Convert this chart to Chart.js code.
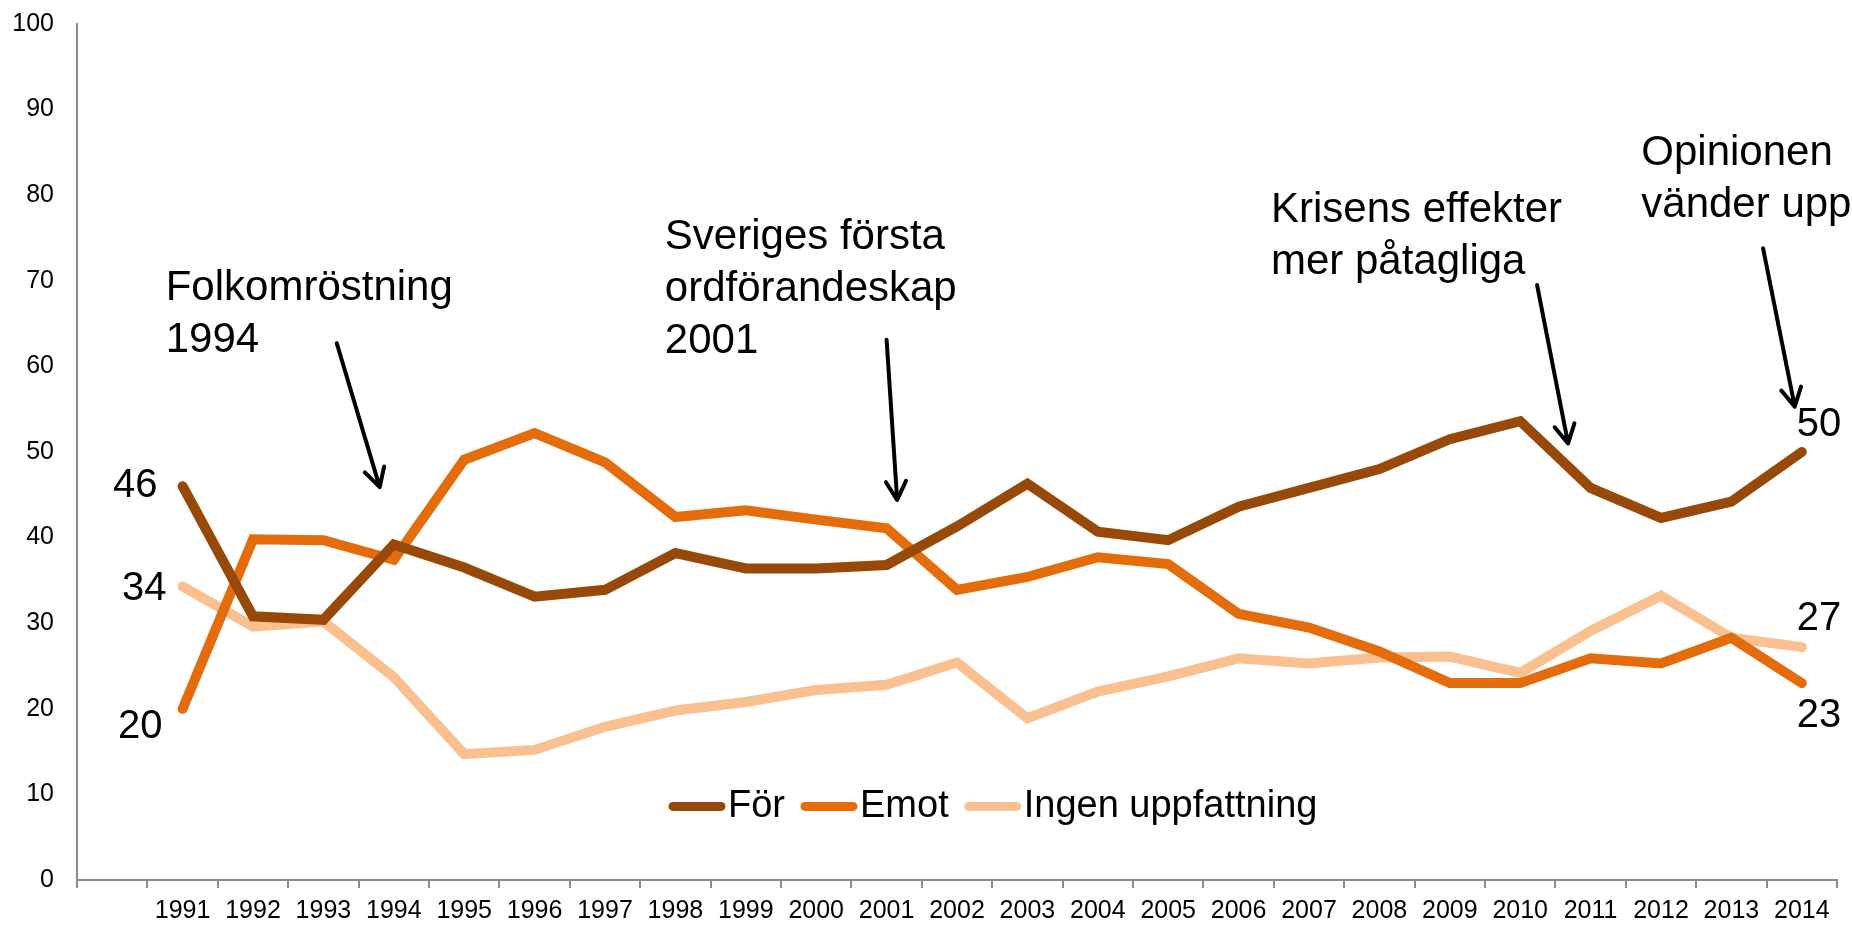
<!DOCTYPE html>
<html>
<head>
<meta charset="utf-8">
<script src="https://cdn.jsdelivr.net/npm/chart.js@4.4.1/dist/chart.umd.min.js"></script>
<style>
  html, body { margin: 0; padding: 0; background: #fff; }
  canvas { display: block; }
</style>
</head>
<body>
<canvas id="myChart" width="1852" height="925"></canvas>
<script>
// years on the x axis (the first slot of the axis is left empty, as in the original)
const years = ["1991", "1992", "1993", "1994", "1995", "1996", "1997", "1998", "1999", "2000",
    "2001", "2002", "2003", "2004", "2005", "2006", "2007", "2008", "2009", "2010",
    "2011", "2012", "2013", "2014"];
const seriesNames = ["För", "Emot", "Ingen uppfattning"];
const forValues = [46, 30.8, 30.4, 39.2, 36.5, 33.1, 33.9, 38.2, 36.4, 36.4, 36.8, 41.3,
    46.3, 40.7, 39.7, 43.6, 45.8, 48.0, 51.5, 53.6, 45.8, 42.3, 44.2, 50];
const emotValues = [20, 39.8, 39.7, 37.4, 49.1, 52.2, 48.8, 42.4, 43.2, 42.1, 41.1, 33.9,
    35.4, 37.7, 36.9, 31.1, 29.5, 26.7, 23.0, 23.0, 25.9, 25.3, 28.3, 23];
const ingenValues = [34.3, 29.6, 30.2, 23.7, 14.7, 15.2, 17.9, 19.8, 20.8, 22.2, 22.8, 25.4,
    18.9, 22.0, 23.8, 25.9, 25.3, 26.0, 26.1, 24.2, 29.1, 33.2, 28.3, 27.2];
const colors = ["#984807", "#e46c0a", "#fac090"];

// texts and arrows, positioned in axis units (category index, percent)
const notes = [
    { lines: ["Folkomröstning", "1994"], at: [0.76, 67.8], from: [3.19, 62.7], to: [3.80, 45.9] },
    { lines: ["Sveriges första", "ordförandeskap", "2001"], at: [7.85, 73.7], from: [11.0, 63.1], to: [11.15, 44.4] },
    { lines: ["Krisens effekter", "mer påtagliga"], at: [16.46, 76.9], from: [20.24, 69.5], to: [20.68, 51.0] },
    { lines: ["Opinionen", "vänder uppåt"], at: [21.72, 83.5], from: [23.45, 73.8], to: [23.9, 55.3] },
];

const FONT = "'Liberation Sans', Arial, sans-serif";
const categories = [""].concat(years);
const allSeries = [forValues, emotValues, ingenValues];

const drawArrow = (ctx, x1, y1, x2, y2) => {
    const a = Math.atan2(y2 - y1, x2 - x1);
    const len = 21, spread = 0.5;
    ctx.beginPath();
    ctx.moveTo(x1, y1);
    ctx.lineTo(x2, y2);
    ctx.moveTo(x2 - len * Math.cos(a - spread), y2 - len * Math.sin(a - spread));
    ctx.lineTo(x2, y2);
    ctx.lineTo(x2 - len * Math.cos(a + spread), y2 - len * Math.sin(a + spread));
    ctx.stroke();
};

const extras = {
    id: "extras",
    afterDraw(chart) {
        const ctx = chart.ctx;
        const xs = chart.scales.x, ys = chart.scales.y;
        const ca = chart.chartArea;
        ctx.save();

        // end labels on the lines
        ctx.fillStyle = "#000";
        ctx.font = "40px " + FONT;
        ctx.textBaseline = "middle";
        const last = years.length;
        const endLabels = [
            { ds: 0, i: 1, dx: -25, dy: 0, align: "right" },
            { ds: 2, i: 1, dx: -16, dy: 3, align: "right" },
            { ds: 1, i: 1, dx: -20, dy: 18, align: "right" },
            { ds: 0, i: last, dx: -5, dy: -27, align: "left" },
            { ds: 2, i: last, dx: -5, dy: -28, align: "left" },
            { ds: 1, i: last, dx: -5, dy: 33, align: "left" },
        ];
        endLabels.forEach((l) => {
            const pt = chart.getDatasetMeta(l.ds).data[l.i];
            ctx.textAlign = l.align;
            ctx.fillText(String(Math.round(chart.data.datasets[l.ds].data[l.i])), pt.x + l.dx, pt.y + l.dy);
        });

        // annotations
        ctx.textAlign = "left";
        ctx.textBaseline = "alphabetic";
        ctx.font = "42px " + FONT;
        notes.forEach((n) => {
            const x = xs.getPixelForValue(n.at[0]);
            const y = ys.getPixelForValue(n.at[1]);
            n.lines.forEach((t, k) => ctx.fillText(t, x, y + k * 52));
            ctx.strokeStyle = "#000";
            ctx.lineWidth = 4;
            ctx.lineCap = "round";
            ctx.lineJoin = "round";
            drawArrow(ctx,
                xs.getPixelForValue(n.from[0]), ys.getPixelForValue(n.from[1]),
                xs.getPixelForValue(n.to[0]), ys.getPixelForValue(n.to[1]));
        });

        // legend inside the plot
        ctx.font = "38px " + FONT;
        ctx.textBaseline = "middle";
        let lx = ca.left + 592;
        const ly = ys.getPixelForValue(8.6);
        chart.data.datasets.forEach((d) => {
            ctx.strokeStyle = d.borderColor;
            ctx.lineWidth = 9;
            ctx.lineCap = "round";
            ctx.beginPath();
            ctx.moveTo(lx + 4, ly);
            ctx.lineTo(lx + 52, ly);
            ctx.stroke();
            lx += 59;
            ctx.fillStyle = "#000";
            ctx.fillText(d.label, lx, ly);
            lx += ctx.measureText(d.label).width + 16;
        });
        ctx.restore();
    },
};

const ctx = document.getElementById("myChart");
const myChart = new Chart(ctx, {
    type: "line",
    data: {
        labels: categories,
        datasets: allSeries.map((vals, i) => ({
            label: seriesNames[i],
            data: [null].concat(vals),
            borderColor: colors[i],
            backgroundColor: colors[i],
            borderWidth: 10,
            borderCapStyle: "round",
            pointRadius: 0,
            tension: 0,
        })),
    },
    options: {
        responsive: false,
        animation: false,
        devicePixelRatio: 1,
        layout: { padding: { top: 24, right: 15, bottom: 0, left: 0 } },
        plugins: {
            legend: { display: false },
            tooltip: { enabled: false },
        },
        scales: {
            x: {
                offset: true,
                grid: {
                    offset: true,
                    drawOnChartArea: false,
                    drawTicks: true,
                    tickLength: 8,
                    color: "#8a8a8a",
                    lineWidth: 2,
                },
                border: { color: "#8a8a8a", width: 2 },
                ticks: {
                    color: "#000",
                    font: { family: FONT, size: 25 },
                    padding: 8,
                    maxRotation: 0,
                    autoSkip: false,
                },
                afterFit: (s) => { s.height = 45; },
            },
            y: {
                min: 0,
                max: 100,
                grid: { display: false },
                border: { color: "#8a8a8a", width: 2 },
                ticks: {
                    stepSize: 10,
                    color: "#000",
                    font: { family: FONT, size: 25 },
                    padding: 15,
                },
                afterFit: (s) => {
                    s.width = 77;
                    s.paddingTop = 0;
                    s.paddingBottom = 0;
                },
            },
        },
    },
    plugins: [extras],
});
</script>
</body>
</html>
